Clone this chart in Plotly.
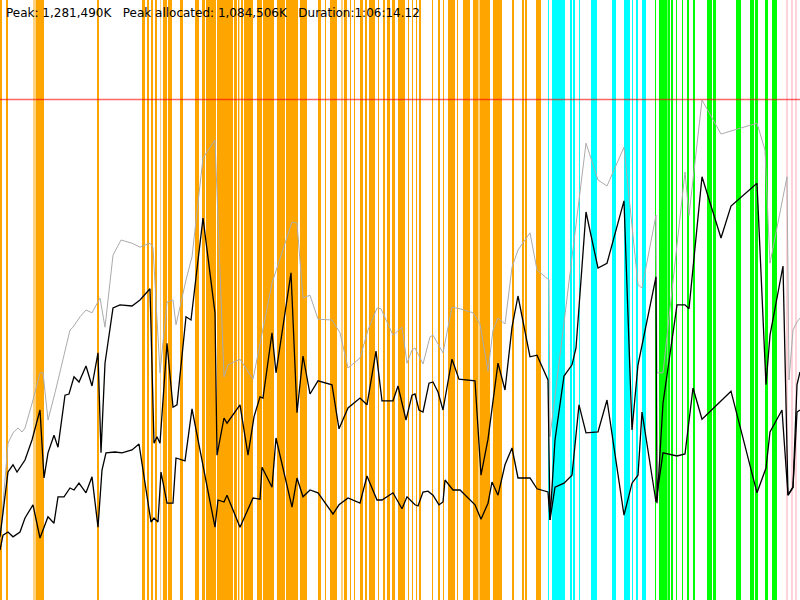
import plotly.graph_objects as go

# time in seconds, memory in MB
gray_t = [0, 40, 65, 90, 110, 125, 165, 200, 215, 240, 275, 315, 350, 365, 400, 430, 460, 500, 525, 565,
          605, 660, 700, 750, 765, 800, 835, 865, 880, 930, 960, 1015, 1075, 1120, 1140, 1200, 1265, 1360,
          1460, 1485, 1515, 1550, 1590, 1660, 1700, 1740, 1800, 1840, 1885, 1905, 1965, 2010, 2035, 2060,
          2075, 2115, 2150, 2165, 2215, 2260, 2300, 2365, 2400, 2440, 2465, 2490, 2525, 2560, 2590, 2650,
          2685, 2745, 2750, 2930, 2990, 3035, 3120, 3190, 3210, 3280, 3285, 3315, 3425, 3445, 3510, 3605,
          3785, 3825, 3850, 3935, 3945, 3965, 3985, 4000]
gray_mb = [150, 392, 418, 430, 420, 430, 500, 568, 568, 450, 518, 600, 675, 682, 708, 725, 718, 755, 682, 862,
           900, 892, 882, 892, 882, 568, 745, 750, 688, 800, 858, 1105, 1150, 558, 588, 602, 552, 792,
           945, 942, 755, 762, 702, 700, 668, 580, 605, 675, 730, 728, 662, 682, 592, 625,
           630, 590, 658, 662, 618, 732, 728, 718, 690, 572, 675, 705, 690, 832, 875, 918,
           825, 800, 408, 1142, 1050, 1035, 1132, 788, 780, 962, 568, 568, 1070, 962, 1250, 1165,
           1192, 1125, 842, 1058, 550, 675, 695, 705]

upper_t = [0, 40, 65, 85, 125, 160, 200, 220, 240, 270, 290, 325, 345, 370, 395, 430, 460, 490, 505, 525,
           565, 600, 660, 700, 750, 770, 785, 800, 835, 865, 885, 930, 955, 1015, 1075, 1085, 1120, 1135,
           1200, 1240, 1270, 1300, 1315, 1360, 1380, 1455, 1485, 1515, 1550, 1590, 1660, 1695, 1740, 1800,
           1835, 1880, 1910, 1965, 1990, 2030, 2060, 2075, 2095, 2115, 2145, 2165, 2190, 2215, 2260, 2295,
           2375, 2405, 2440, 2465, 2490, 2525, 2560, 2590, 2650, 2685, 2740, 2750, 2775, 2820, 2860, 2880,
           2930, 2990, 3035, 3120, 3160, 3190, 3280, 3285, 3315, 3385, 3425, 3445, 3510, 3605, 3655, 3785,
           3830, 3850, 3915, 3940, 3965, 3985, 4000]
upper_mb = [158, 320, 338, 320, 350, 400, 475, 305, 368, 412, 382, 512, 515, 558, 545, 585, 535, 618, 368, 592,
            730, 738, 735, 750, 778, 392, 408, 392, 642, 482, 488, 708, 700, 955, 718, 362, 455, 442,
            488, 362, 458, 508, 505, 668, 568, 818, 468, 610, 515, 548, 538, 428, 480, 505,
            488, 622, 498, 498, 535, 450, 512, 515, 475, 470, 542, 545, 520, 475, 602, 552,
            548, 312, 402, 495, 592, 525, 682, 760, 608, 612, 550, 200, 400, 560, 588, 630,
            970, 830, 842, 998, 425, 588, 808, 242, 492, 738, 738, 728, 1058, 905, 985, 1042,
            538, 662, 835, 262, 282, 538, 570]

lower_t = [0, 15, 40, 65, 100, 125, 165, 200, 240, 270, 290, 320, 350, 370, 395, 430, 460, 490, 510, 530,
           575, 610, 660, 695, 755, 770, 790, 805, 835, 865, 880, 925, 960, 1075, 1090, 1120, 1135, 1200,
           1265, 1300, 1310, 1360, 1380, 1460, 1485, 1515, 1550, 1590, 1665, 1695, 1740, 1800, 1835, 1885,
           1910, 1965, 2010, 2035, 2075, 2090, 2115, 2140, 2165, 2195, 2215, 2225, 2265, 2300, 2375, 2405,
           2440, 2460, 2490, 2525, 2560, 2590, 2650, 2685, 2740, 2750, 2775, 2820, 2860, 2895, 2930, 2990,
           3035, 3120, 3160, 3190, 3210, 3280, 3315, 3385, 3425, 3465, 3510, 3655, 3785, 3830, 3850, 3910,
           3940, 3965, 3985, 4000]
lower_mb = [125, 162, 170, 158, 170, 205, 238, 155, 208, 192, 258, 258, 280, 275, 292, 268, 308, 182, 325, 368,
            370, 368, 375, 390, 195, 205, 195, 320, 242, 242, 355, 348, 478, 182, 250, 245, 262, 182,
            255, 252, 332, 282, 405, 232, 305, 258, 275, 268, 215, 238, 255, 242, 310, 250,
            250, 268, 228, 258, 238, 235, 270, 272, 262, 238, 245, 300, 275, 275, 238, 202,
            242, 295, 262, 338, 380, 305, 305, 278, 270, 200, 282, 292, 312, 488, 418, 420,
            500, 212, 292, 312, 470, 245, 368, 360, 365, 530, 452, 522, 268, 330, 420, 475,
            262, 282, 470, 475]

# GC phases: (start s, end s)
orange_spans = [(0, 10), (30, 40), (180, 220), (485, 495), (710, 725), (735, 745), (755, 765), (775, 785),
                (815, 835), (840, 860), (900, 915), (975, 995), (1010, 1025), (1030, 1080), (1085, 1165),
                (1170, 1185), (1190, 1197), (1205, 1215), (1220, 1265), (1285, 1310), (1315, 1370),
                (1385, 1425), (1430, 1490), (1500, 1535), (1590, 1605), (1625, 1630), (1650, 1685),
                (1720, 1735), (1750, 1755), (1770, 1775), (1800, 1815), (1825, 1835), (1845, 1875),
                (1890, 1895), (1915, 1925), (1935, 1950), (1960, 1975), (1990, 2025), (2040, 2045),
                (2060, 2065), (2080, 2085), (2095, 2105), (2160, 2165), (2190, 2200), (2215, 2220),
                (2240, 2275), (2285, 2290), (2315, 2350), (2365, 2450), (2465, 2510), (2560, 2570),
                (2610, 2620), (2625, 2635), (2680, 2705)]
light_orange_spans = [(165, 180), (800, 805), (1705, 1715), (2390, 2400)]
cyan_spans = [(2740, 2745), (2760, 2825), (2850, 2860), (2865, 2875), (2895, 2900), (2955, 2985),
              (3060, 3080), (3120, 3150), (3160, 3165), (3180, 3190), (3210, 3230)]
green_spans = [(3275, 3280), (3295, 3335), (3337, 3350), (3355, 3365), (3380, 3385), (3410, 3415),
               (3435, 3445), (3465, 3475), (3535, 3560), (3565, 3580), (3680, 3705), (3750, 3770),
               (3775, 3790), (3825, 3840), (3860, 3885)]
pink_spans = [(3930, 3940), (3955, 3965), (3975, 3985)]

peak_mb = 1251.5
header = "Peak: 1,281,490K   Peak allocated: 1,084,506K   Duration:1:06:14.12"

fig = go.Figure()

for spans, col in [(orange_spans, '#FFA500'), (light_orange_spans, '#FFD27F'), (cyan_spans, '#00FFFF'),
                   (green_spans, '#00FF00'), (pink_spans, '#FFD3DA')]:
    for s, e in spans:
        fig.add_vrect(x0=s, x1=e, fillcolor=col, line_width=0, layer='below')

fig.add_trace(go.Scatter(x=gray_t, y=gray_mb, mode='lines', line=dict(color='#ABABAB', width=1)))
fig.add_trace(go.Scatter(x=upper_t, y=upper_mb, mode='lines', line=dict(color='black', width=1.3)))
fig.add_trace(go.Scatter(x=lower_t, y=lower_mb, mode='lines', line=dict(color='black', width=1.3)))

fig.add_hline(y=peak_mb, line_color='rgba(255,0,0,0.6)', line_width=1.5)

fig.add_annotation(text=header.replace(' ', '\u00a0'), xref='paper', yref='paper', x=0, y=1,
                   xanchor='left', yanchor='top', xshift=4, yshift=-4, showarrow=False,
                   font=dict(family='DejaVu Sans', size=12, color='black'))

fig.update_layout(width=800, height=600, margin=dict(l=0, r=0, t=0, b=0),
                  plot_bgcolor='white', paper_bgcolor='white', showlegend=False)
fig.update_xaxes(range=[0, 4000], visible=False)
fig.update_yaxes(range=[0, 1500], visible=False)

# page body margin would shift the 800x600 figure
fig.write_html("out.html", config={'displayModeBar': False},
               post_script="document.body.style.margin='0';document.body.style.overflow='hidden';")
